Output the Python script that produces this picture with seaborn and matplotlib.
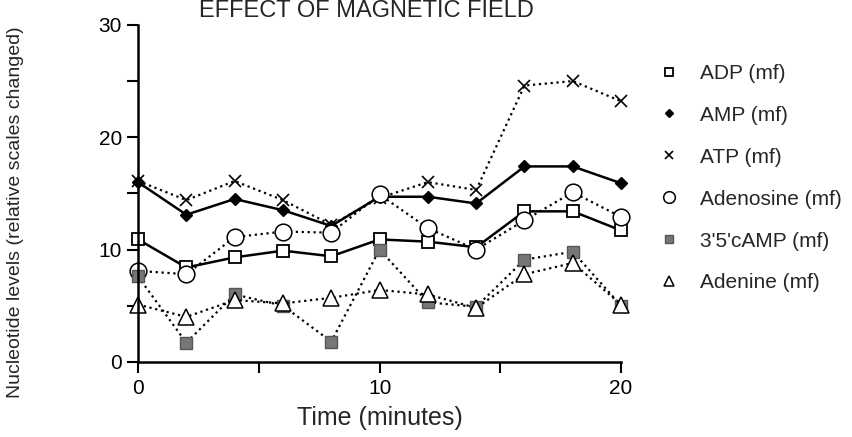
import numpy as np
import pandas as pd
import matplotlib
matplotlib.use("Agg")
import matplotlib.pyplot as plt
from matplotlib.ticker import MultipleLocator
import seaborn as sns

TIME = [0, 2, 4, 6, 8, 10, 12, 14, 16, 18, 20]
ADP = [10.9, 8.4, 9.3, 9.9, 9.4, 10.9, 10.7, 10.2, 13.4, 13.4, 11.7]
AMP = [16.0, 13.1, 14.5, 13.5, 12.1, 14.7, 14.7, 14.1, 17.4, 17.4, 15.9]
ATP = [16.1, 14.4, 16.1, 14.4, 12.2, 14.6, 16.0, 15.3, 24.6, 25.0, 23.2]
ADENOSINE = [8.1, 7.8, 11.1, 11.6, 11.5, 14.9, 11.9, 10.0, 12.6, 15.1, 12.9]
CAMP = [7.6, 1.7, 6.0, 5.0, 1.8, 10.0, 5.3, 4.9, 9.1, 9.8, 5.0]
ADENINE = [5.1, 4.0, 5.5, 5.2, 5.7, 6.4, 6.0, 4.8, 7.8, 8.8, 5.1]

SERIES = ["ADP (mf)", "AMP (mf)", "ATP (mf)", "Adenosine (mf)", "3'5'cAMP (mf)", "Adenine (mf)"]
VALUES = [ADP, AMP, ATP, ADENOSINE, CAMP, ADENINE]

sns.set_style("ticks")
plt.rcParams["font.family"] = ["Liberation Sans", "DejaVu Sans"]

df = pd.DataFrame({"time": TIME})
for name, vals in zip(SERIES, VALUES):
    df[name] = vals
long_df = df.melt(id_vars="time", var_name="series", value_name="level")

styles = {
    "ADP (mf)": dict(ls="-", lw=1.8, marker="s", ms=9, mfc="white", mec="black", mew=1.3),
    "AMP (mf)": dict(ls="-", lw=1.8, marker="D", ms=6, mfc="black", mec="black", mew=1),
    "ATP (mf)": dict(ls=":", lw=1.6, marker="x", ms=9, mfc="black", mec="black", mew=1.2),
    "Adenosine (mf)": dict(ls=":", lw=1.6, marker="o", ms=12, mfc="white", mec="black", mew=1.1),
    "3'5'cAMP (mf)": dict(ls=":", lw=1.6, marker="s", ms=8, mfc="#777777", mec="#555555", mew=1),
    "Adenine (mf)": dict(ls=":", lw=1.6, marker="^", ms=11, mfc="white", mec="black", mew=1.1),
}

fig = plt.figure(figsize=(8.52, 4.37), dpi=100)
ax = fig.add_axes([0.162, 0.172, 0.567, 0.771])

for name in SERIES:
    st = styles[name]
    sub = long_df[long_df["series"] == name]
    sns.lineplot(data=sub, x="time", y="level", ax=ax, color="black", label=name,
                 linestyle=st["ls"], linewidth=st["lw"], marker=st["marker"],
                 markersize=st["ms"], markerfacecolor=st["mfc"],
                 markeredgecolor=st["mec"], markeredgewidth=st["mew"], clip_on=False)

ax.set_xlim(0, 20)
ax.set_ylim(0, 30)
ax.xaxis.set_major_locator(MultipleLocator(10))
ax.xaxis.set_minor_locator(MultipleLocator(5))
ax.yaxis.set_major_locator(MultipleLocator(10))
ax.yaxis.set_minor_locator(MultipleLocator(5))
ax.tick_params(which="both", direction="out", length=8, width=1.5, labelsize=15, colors="black")
ax.tick_params(axis="x", pad=4)
sns.despine(ax=ax)
for sp in ["left", "bottom"]:
    ax.spines[sp].set_linewidth(1.8)
    ax.spines[sp].set_color("black")

ax.set_xlabel("Time (minutes)", fontsize=18, labelpad=6)
ax.set_ylabel("Nucleotide levels (relative scales changed)", fontsize=14)
ax.yaxis.set_label_coords(-0.235, 0.445)

fig.text(0.43, 0.975, "EFFECT OF MAGNETIC FIELD", fontsize=17, ha="center", va="center")

handles, labels = ax.get_legend_handles_labels()
ax.legend(handles, labels, loc="upper left", bbox_to_anchor=(1.06, 0.94), frameon=False,
          fontsize=15, handlelength=0, handletextpad=1.5, labelspacing=1.1, markerscale=0.7)

fig.savefig("out.png", dpi=100)
